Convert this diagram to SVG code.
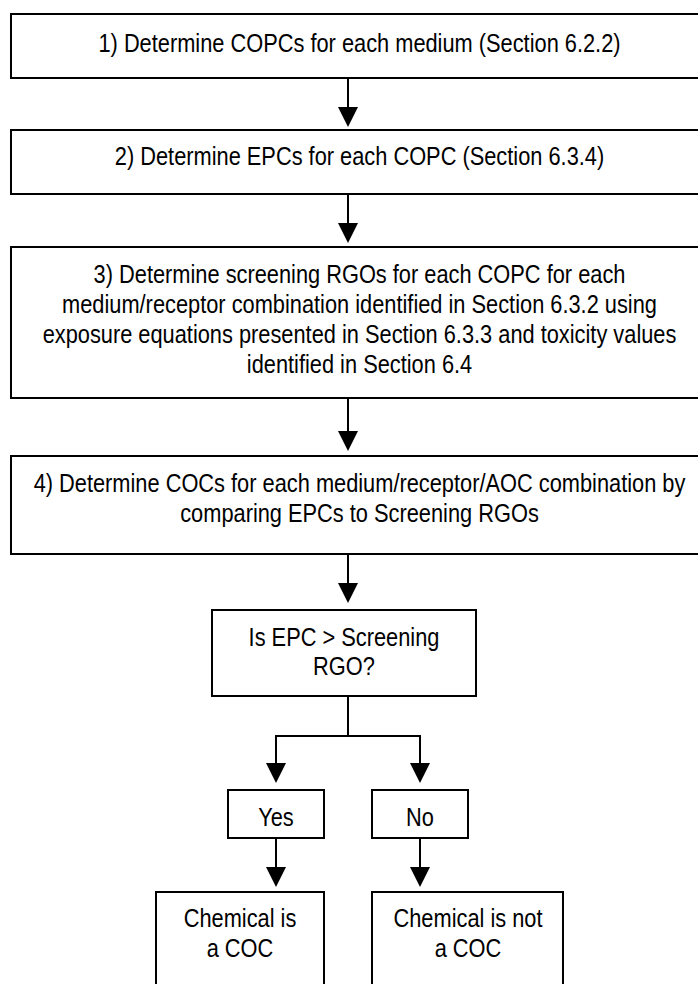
<svg xmlns="http://www.w3.org/2000/svg" width="698" height="984" viewBox="0 0 698 984">
<style>
  .box { fill: #ffffff; stroke: #000000; stroke-width: 2; }
  .t { font-family: "Liberation Sans", Arial, sans-serif; font-size: 25.6px; fill: #000000; text-anchor: middle; }
  .c { stroke: #000000; stroke-width: 2; fill: none; }
</style>
<defs>
  <marker id="ah" markerUnits="userSpaceOnUse" markerWidth="20" markerHeight="20" viewBox="0 0 20 20" refX="10" refY="10" orient="auto">
    <path d="M0,0 L20,10 L0,20 Z" fill="#000000"/>
  </marker>
</defs>
<rect width="698" height="984" fill="#ffffff"/>

<g id="n1">
  <rect class="box" x="11" y="14" width="700" height="64"/>
  <text class="t" transform="translate(359.5,52) scale(0.852,1)">1) Determine COPCs for each medium (Section 6.2.2)</text>
</g>
<g id="n2">
  <rect class="box" x="11" y="130" width="700" height="64"/>
  <text class="t" transform="translate(359.5,165) scale(0.852,1)">2) Determine EPCs for each COPC (Section 6.3.4)</text>
</g>
<g id="n3">
  <rect class="box" x="11" y="247" width="700" height="151"/>
  <text class="t" transform="translate(359.5,283) scale(0.852,1)">3) Determine screening RGOs for each COPC for each</text>
  <text class="t" transform="translate(359.5,313) scale(0.852,1)">medium/receptor combination identified in Section 6.3.2 using</text>
  <text class="t" transform="translate(359.5,343) scale(0.852,1)">exposure equations presented in Section 6.3.3 and toxicity values</text>
  <text class="t" transform="translate(359.5,373) scale(0.852,1)">identified in Section 6.4</text>
</g>
<g id="n4">
  <rect class="box" x="11" y="456" width="700" height="98"/>
  <text class="t" transform="translate(359.5,492) scale(0.852,1)">4) Determine COCs for each medium/receptor/AOC combination by</text>
  <text class="t" transform="translate(359.5,522) scale(0.852,1)">comparing EPCs to Screening RGOs</text>
</g>
<g id="n5">
  <rect class="box" x="212" y="610" width="264" height="86"/>
  <text class="t" transform="translate(344,646) scale(0.852,1)">Is EPC &gt; Screening</text>
  <text class="t" transform="translate(344,675) scale(0.852,1)">RGO?</text>
</g>
<g id="n6">
  <rect class="box" x="228" y="790" width="96" height="48"/>
  <text class="t" transform="translate(276,826) scale(0.852,1)">Yes</text>
</g>
<g id="n7">
  <rect class="box" x="372" y="790" width="96" height="48"/>
  <text class="t" transform="translate(420,826) scale(0.852,1)">No</text>
</g>
<g id="n8">
  <rect class="box" x="156" y="892" width="168" height="110"/>
  <text class="t" transform="translate(240,927) scale(0.852,1)">Chemical is</text>
  <text class="t" transform="translate(240,957) scale(0.852,1)">a COC</text>
</g>
<g id="n9">
  <rect class="box" x="372" y="892" width="191" height="110"/>
  <text class="t" transform="translate(468,927) scale(0.852,1)">Chemical is not</text>
  <text class="t" transform="translate(468,957) scale(0.852,1)">a COC</text>
</g>

<g id="connectors">
  <line class="c" x1="348" y1="78" x2="348" y2="117" marker-end="url(#ah)"/>
  <line class="c" x1="348" y1="194" x2="348" y2="233" marker-end="url(#ah)"/>
  <line class="c" x1="348" y1="398" x2="348" y2="441" marker-end="url(#ah)"/>
  <line class="c" x1="348" y1="554" x2="348" y2="593" marker-end="url(#ah)"/>
  <polyline class="c" points="348,696 348,736 276,736 276,773" marker-end="url(#ah)"/>
  <polyline class="c" points="348,736 420,736 420,773" marker-end="url(#ah)"/>
  <line class="c" x1="276" y1="838" x2="276" y2="877" marker-end="url(#ah)"/>
  <line class="c" x1="420" y1="838" x2="420" y2="877" marker-end="url(#ah)"/>
</g>
</svg>
